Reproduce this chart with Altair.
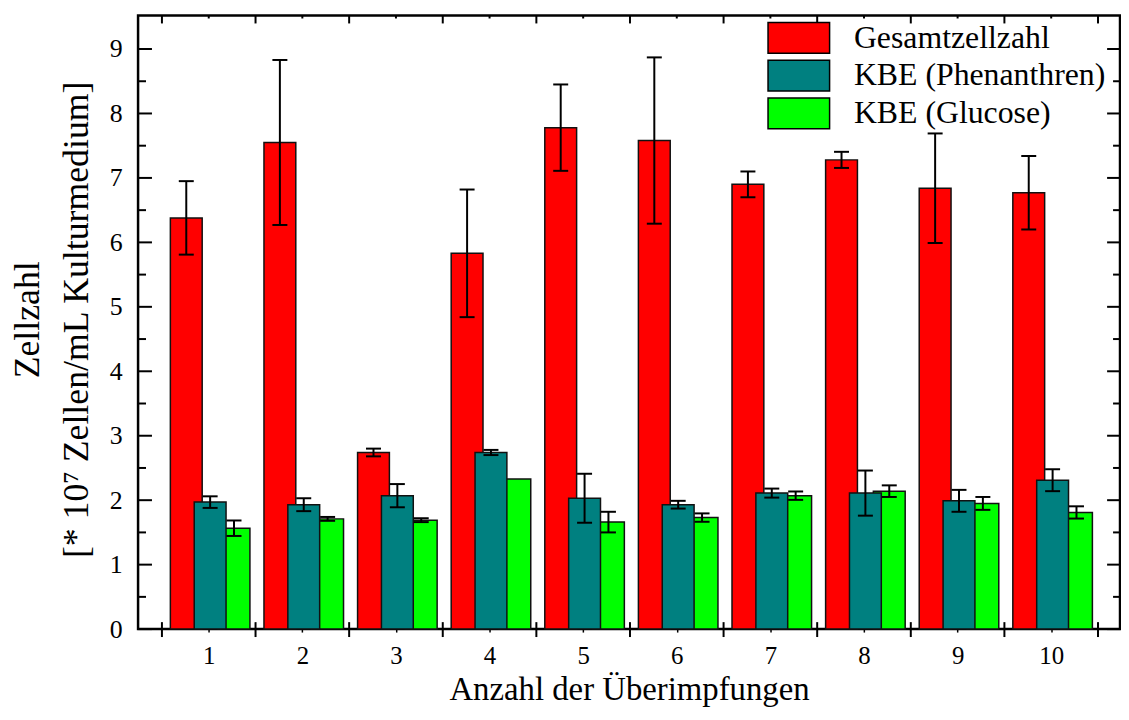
import altair as alt
import pandas as pd

# ---------------- data ----------------
cats = [1, 2, 3, 4, 5, 6, 7, 8, 9, 10]
series_names = ["Gesamtzellzahl", "KBE (Phenanthren)", "KBE (Glucose)"]
series_colors = ["#FF0000", "#008080", "#00FF00"]

gesamt = [6.38, 7.55, 2.74, 5.83, 7.78, 7.58, 6.90, 7.28, 6.84, 6.77]
gesamt_err = [0.57, 1.28, 0.06, 0.99, 0.67, 1.29, 0.20, 0.125, 0.85, 0.57]
phen = [1.97, 1.93, 2.07, 2.74, 2.03, 1.93, 2.11, 2.11, 1.99, 2.31]
phen_err = [0.09, 0.10, 0.18, 0.04, 0.38, 0.06, 0.07, 0.35, 0.17, 0.17]
gluc = [1.565, 1.71, 1.69, 2.33, 1.66, 1.73, 2.07, 2.14, 1.95, 1.81]
gluc_err = [0.12, 0.03, 0.03, 0.0, 0.16, 0.065, 0.065, 0.09, 0.10, 0.095]

y_major = [0, 1, 2, 3, 4, 5, 6, 7, 8, 9]
y_minor = [0.5, 1.5, 2.5, 3.5, 4.5, 5.5, 6.5, 7.5, 8.5]
x_bounds = [0.5, 1.5, 2.5, 3.5, 4.5, 5.5, 6.5, 7.5, 8.5, 9.5, 10.5]

x_title = "Anzahl der Überimpfungen"
y_title = ["Zellzahl", "[* 10\u2077 Zellen/mL Kulturmedium]"]

# --------------- layout ---------------
W, H = 989, 618
FONT = "Liberation Serif, Times New Roman, serif"
OFF = {"Gesamtzellzahl": -0.24, "KBE (Phenanthren)": 0.015, "KBE (Glucose)": 0.27}
HALF = 0.17
CAP = 0.08

# draw order: red, green, teal on top
rows = []
for name, vals, errs in [("Gesamtzellzahl", gesamt, gesamt_err),
                         ("KBE (Glucose)", gluc, gluc_err),
                         ("KBE (Phenanthren)", phen, phen_err)]:
    for c, v, e in zip(cats, vals, errs):
        rows.append({"cat": c, "series": name, "value": v, "err": e, "off": OFF[name]})
df = pd.DataFrame(rows)

xs = alt.Scale(domain=[0.245, 10.735], nice=False, zero=False)
ys = alt.Scale(domain=[0, 9.52], nice=False, zero=False)

x_axis = alt.Axis(values=cats, format="d", grid=False, domain=False,
                  ticks=True, tickSize=3, tickWidth=1.5, tickColor="black",
                  labelFont=FONT, labelFontSize=25, labelColor="black",
                  labelPadding=12, labelFlush=False,
                  titleFont=FONT, titleFontSize=33, titleFontWeight="normal",
                  titleColor="black", titleBaseline="alphabetic", titleY=71)
y_axis = alt.Axis(values=y_major, format="d", grid=False, domain=False,
                  ticks=False, tickSize=0,
                  labelFont=FONT, labelFontSize=26, labelColor="black",
                  labelPadding=16,
                  titleFont=FONT, titleFontSize=36, titleFontWeight="normal",
                  titleColor="black", titleAngle=270, titleAlign="center",
                  titleBaseline="alphabetic", titleLineHeight=49,
                  titleX=-100, titleY=306)

def X(field):
    return alt.X(field, scale=xs, axis=x_axis, title=x_title)

def Y(field):
    return alt.Y(field, scale=ys, axis=y_axis, title=y_title)

base = alt.Chart(df).transform_calculate(
    xa=f"datum.cat + datum.off - {HALF}",
    xb=f"datum.cat + datum.off + {HALF}",
    xc="datum.cat + datum.off",
    ca=f"datum.cat + datum.off - {CAP}",
    cb=f"datum.cat + datum.off + {CAP}",
    lo="datum.value - datum.err",
    hi="datum.value + datum.err",
)

bars = base.mark_rect(stroke="#111111", strokeWidth=1.5).encode(
    x=X("xa:Q"),
    x2="xb:Q",
    y=Y("value:Q"),
    y2=alt.datum(0),
    color=alt.Color("series:N",
                    scale=alt.Scale(domain=series_names, range=series_colors),
                    legend=alt.Legend(orient="none", legendX=649, legendY=6,
                                      title=None, padding=0,
                                      symbolType="M-2,-1H2V1H-2Z", symbolSize=961,
                                      symbolStrokeColor="black", symbolStrokeWidth=1.5,
                                      symbolOpacity=1,
                                      labelFont=FONT, labelFontSize=32, labelColor="black",
                                      labelOffset=39, labelLimit=500, rowPadding=1)),
)

err_base = base.transform_filter("datum.err > 0")
err_line = err_base.mark_rule(color="black", strokeWidth=2).encode(
    x=X("xc:Q"), y=Y("lo:Q"), y2="hi:Q")
cap_hi = err_base.mark_rule(color="black", strokeWidth=2).encode(
    x=X("ca:Q"), x2="cb:Q", y=Y("hi:Q"))
cap_lo = err_base.mark_rule(color="black", strokeWidth=2).encode(
    x=X("ca:Q"), x2="cb:Q", y=Y("lo:Q"))

ymaj = pd.DataFrame({"v": y_major})
ymin = pd.DataFrame({"v": y_minor})
xb = pd.DataFrame({"v": x_bounds})
xc = pd.DataFrame({"v": cats})

def yticks(data, x0, x1):
    return alt.Chart(data).mark_rule(color="black", strokeWidth=2).encode(
        y=Y("v:Q"), x=alt.value(x0), x2=alt.value(x1))

def xticks(data, y0, y1):
    return alt.Chart(data).mark_rule(color="black", strokeWidth=2).encode(
        x=X("v:Q"), y=alt.value(y0), y2=alt.value(y1))

ticks = [
    yticks(ymaj, 0, 14), yticks(ymin, 0, 8),
    yticks(ymaj, W - 13, W), yticks(ymin, W - 7, W),
    xticks(xb, H - 7, H + 8), xticks(xb, 0, 8), xticks(xc, 0, 3),
]

chart = alt.layer(bars, err_line, cap_hi, cap_lo, *ticks).properties(
    width=W, height=H,
    autosize=alt.AutoSizeParams(type="none"),
    padding={"left": 131, "top": 5, "right": 1, "bottom": 88},
).configure(
    font=FONT, background="white"
).configure_view(
    stroke="black", strokeWidth=2.5
)

chart.save("out.html", embed_options={"renderer": "svg", "actions": False})
